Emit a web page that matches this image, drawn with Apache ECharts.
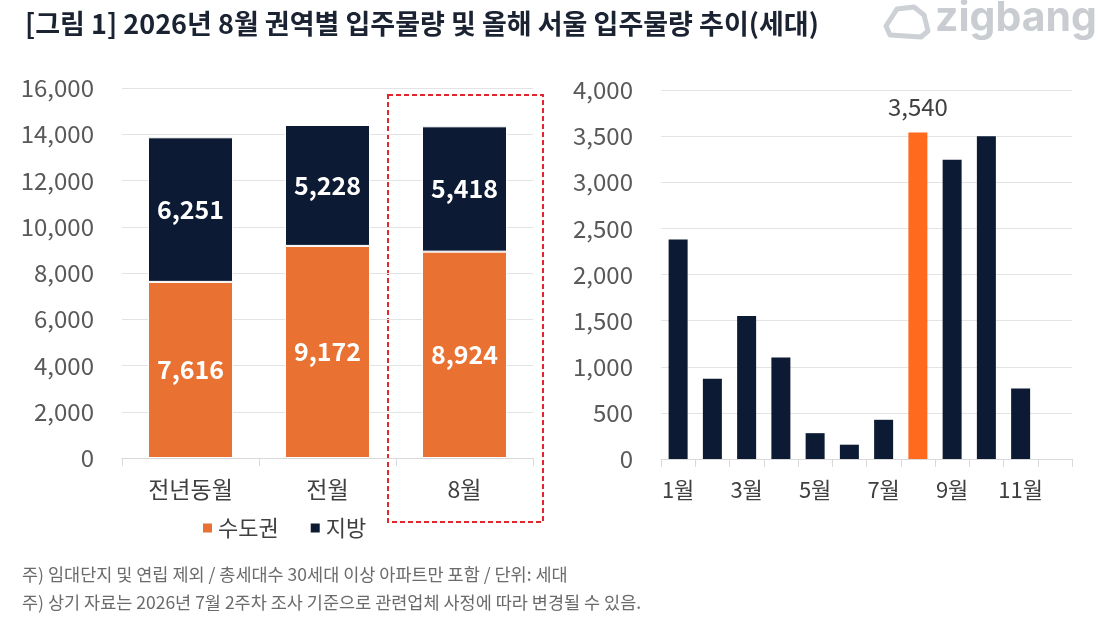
<!DOCTYPE html>
<html>
<head>
<meta charset="utf-8">
<script src="https://cdn.jsdelivr.net/npm/echarts@6/dist/echarts.min.js"></script>
<style>
  html, body { margin: 0; padding: 0; background: #fff; }
  #chart { width: 1117px; height: 628px; }
</style>
</head>
<body>
<div id="chart"></div>
<script>
// 권역별 입주물량 (좌측)
const regionCats = ['전년동월', '전월', '8월'];
const capitalArea = [7616, 9172, 8924];   // 수도권
const provinces = [6251, 5228, 5418];     // 지방

// 서울 월별 입주물량 (우측)
const months = ['1월', '2월', '3월', '4월', '5월', '6월', '7월', '8월', '9월', '10월', '11월', '12월'];
const seoulValues = [2380, 870, 1550, 1100, 280, 155, 425, 3540, 3245, 3500, 765, null];
const highlightIdx = 7;

const FONT = '"Noto Sans CJK KR", "Noto Sans", sans-serif';
const ORANGE = '#E97132';
const NAVY = '#0C1A33';
const HIGHLIGHT = '#FF6A1F';

const chart = echarts.init(document.getElementById('chart'));

const fmt = v => Number(v).toLocaleString('en-US');

chart.setOption({
  backgroundColor: '#fff',
  textStyle: { fontFamily: FONT },
  animation: false,
  title: {
    text: '[그림 1] 2026년 8월 권역별 입주물량 및 올해 서울 입주물량 추이(세대)',
    left: 20,
    top: 5,
    textStyle: { fontSize: 27, fontWeight: 'bold', color: '#1B2333', fontFamily: FONT }
  },
  legend: {
    data: ['수도권', '지방'],
    left: 196,
    top: 512,
    itemWidth: 11,
    itemHeight: 11,
    itemGap: 30,
    icon: 'rect',
    textStyle: { fontSize: 22, color: '#404040', fontFamily: FONT }
  },
  grid: [
    { left: 122, width: 411, top: 88, height: 370 },
    { left: 661, width: 411, top: 90, height: 369 }
  ],
  xAxis: [
    {
      gridIndex: 0,
      type: 'category',
      data: regionCats,
      axisLine: { lineStyle: { color: '#D9D9D9' } },
      axisTick: { show: true, length: 8, lineStyle: { color: '#D9D9D9' } },
      axisLabel: { fontSize: 23, color: '#404040', margin: 20, fontFamily: FONT }
    },
    {
      gridIndex: 1,
      type: 'category',
      data: months,
      axisLine: { lineStyle: { color: '#D9D9D9' } },
      axisTick: { show: true, length: 8, interval: 0, lineStyle: { color: '#D9D9D9' } },
      axisLabel: { fontSize: 22, color: '#404040', margin: 20, interval: 1, fontFamily: FONT }
    }
  ],
  yAxis: [
    {
      gridIndex: 0,
      type: 'value',
      min: 0,
      max: 16000,
      interval: 2000,
      axisLine: { show: false },
      axisTick: { show: false },
      splitLine: { lineStyle: { color: '#E3E3E3' } },
      axisLabel: { fontSize: 24, color: '#595959', margin: 28, formatter: fmt, fontFamily: FONT }
    },
    {
      gridIndex: 1,
      type: 'value',
      min: 0,
      max: 4000,
      interval: 500,
      axisLine: { show: false },
      axisTick: { show: false },
      splitLine: { lineStyle: { color: '#E3E3E3' } },
      axisLabel: { fontSize: 24, color: '#595959', margin: 28, formatter: fmt, fontFamily: FONT }
    }
  ],
  series: [
    {
      name: '수도권',
      type: 'bar',
      stack: 'total',
      xAxisIndex: 0,
      yAxisIndex: 0,
      data: capitalArea,
      barWidth: 85,
      itemStyle: { color: ORANGE, borderColor: '#fff', borderWidth: 1 },
      label: {
        show: true,
        position: 'inside',
        color: '#fff',
        fontSize: 25,
        fontWeight: 'bold',
        fontFamily: FONT,
        formatter: p => fmt(p.value)
      }
    },
    {
      name: '지방',
      type: 'bar',
      stack: 'total',
      xAxisIndex: 0,
      yAxisIndex: 0,
      data: provinces,
      barWidth: 85,
      itemStyle: { color: NAVY, borderColor: '#fff', borderWidth: 1 },
      label: {
        show: true,
        position: 'inside',
        color: '#fff',
        fontSize: 25,
        fontWeight: 'bold',
        fontFamily: FONT,
        formatter: p => fmt(p.value)
      }
    },
    {
      name: '서울',
      type: 'bar',
      xAxisIndex: 1,
      yAxisIndex: 1,
      barWidth: 19,
      data: seoulValues.map((v, i) => ({
        value: v,
        itemStyle: { color: i === highlightIdx ? HIGHLIGHT : NAVY },
        label: {
          show: i === highlightIdx,
          position: 'top',
          distance: 14,
          color: '#404040',
          fontSize: 24,
          fontFamily: FONT,
          formatter: p => fmt(p.value)
        }
      }))
    }
  ],
  graphic: [
    {
      type: 'rect',
      shape: { x: 388, y: 95, width: 155, height: 427 },
      style: { fill: 'none', stroke: '#E3262B', lineWidth: 2, lineDash: [5, 3] }
    },
    {
      type: 'text',
      x: 22,
      y: 566,
      style: { text: '주) 임대단지 및 연립 제외 / 총세대수 30세대 이상 아파트만 포함 / 단위: 세대', fill: '#6B6B6B', fontSize: 17.5, fontFamily: FONT }
    },
    {
      type: 'text',
      x: 22,
      y: 594,
      style: { text: '주) 상기 자료는 2026년 7월 2주차 조사 기준으로 관련업체 사정에 따라 변경될 수 있음.', fill: '#6B6B6B', fontSize: 17.5, fontFamily: FONT }
    },
    // zigbang logo (light gray)
    {
      type: 'polygon',
      shape: { points: [[897, 9], [914, 7], [924, 15], [928, 31], [921, 37], [890, 35], [886, 26]] },
      style: { fill: 'none', stroke: '#CDD1D6', lineWidth: 5, lineJoin: 'round' }
    },
    {
      type: 'text',
      x: 935,
      y: -2,
      style: { text: 'zigbang', fill: '#C9CDD2', fontSize: 41, fontWeight: 'bold', fontFamily: 'Inter, "Noto Sans", sans-serif' }
    }
  ]
});
</script>
</body>
</html>
